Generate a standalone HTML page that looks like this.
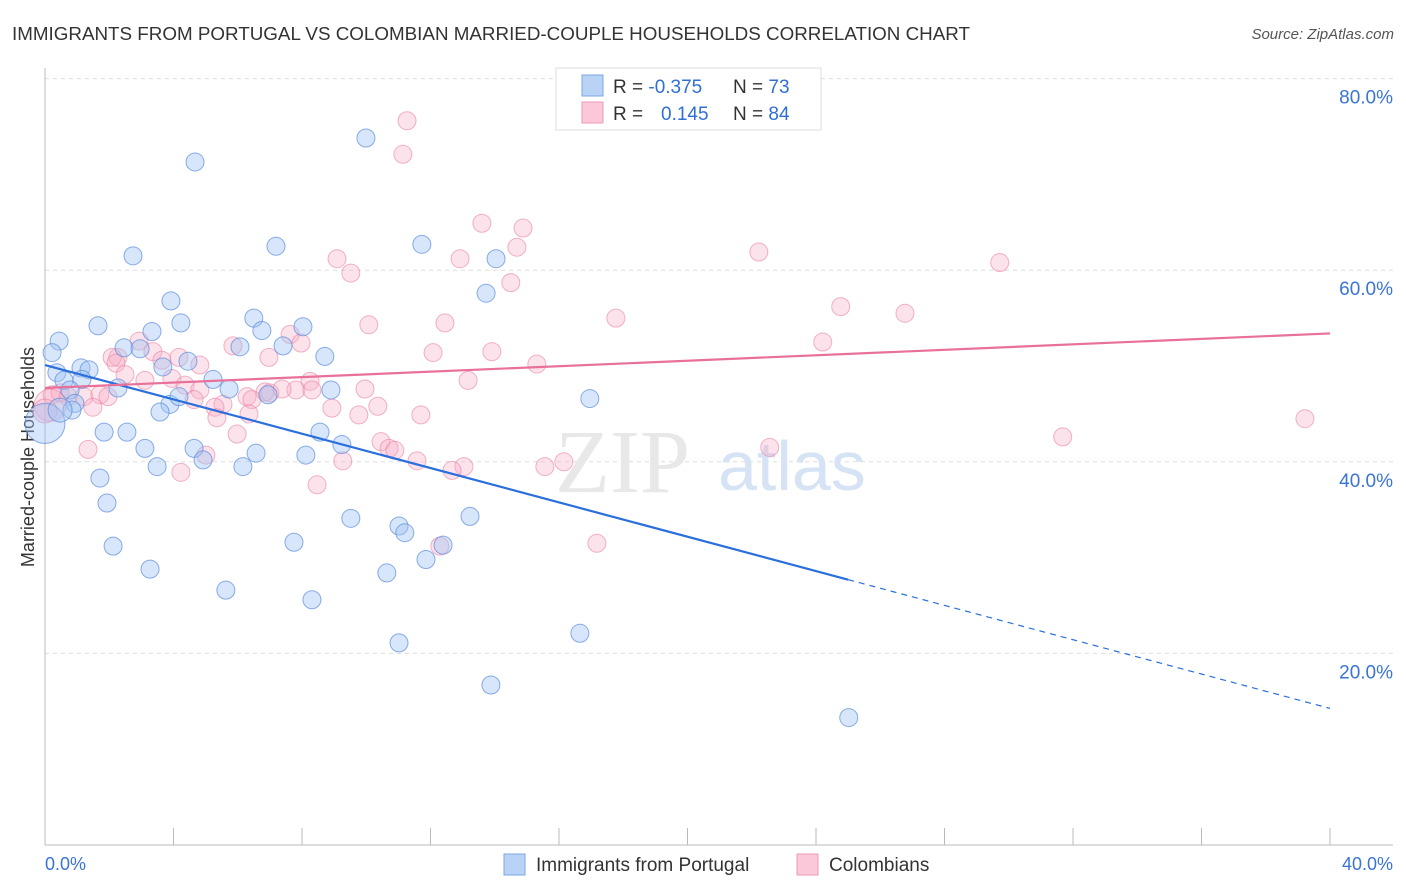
<!DOCTYPE html>
<html><head><meta charset="utf-8">
<style>
body{margin:0;background:#fff;font-family:"Liberation Sans",sans-serif;}
svg{display:block}
</style></head>
<body>
<svg id="chart" width="1406" height="892" viewBox="0 0 1406 892">
<text x="12" y="40" font-size="18" fill="#333" textLength="958" lengthAdjust="spacingAndGlyphs">IMMIGRANTS FROM PORTUGAL VS COLOMBIAN MARRIED-COUPLE HOUSEHOLDS CORRELATION CHART</text>
<text x="1394" y="39" font-size="15" fill="#555" font-style="italic" text-anchor="end">Source: ZipAtlas.com</text>
<text x="34" y="457" font-size="18" fill="#333" text-anchor="middle" transform="rotate(-90 34 457)">Married-couple Households</text>
<g id="grid"></g>
<text x="555" y="492" font-size="90" fill="#e8e8e8" font-family="Liberation Serif,serif">ZIP</text>
<text x="718" y="490" font-size="70" fill="#d6e3f5">atlas</text>
<g id="axes"></g>
<g id="pts"></g>
<g id="trend"></g>
<g>
<rect x="556" y="68" width="265" height="62" fill="#fff" stroke="#ddd"/>
<rect x="582" y="75" width="21" height="21" fill="#b9d3f6" stroke="#7aa7e6"/>
<rect x="582" y="102" width="21" height="21" fill="#fac8d8" stroke="#ee9ab6"/>
<text x="613" y="93" font-size="19" fill="#333">R = <tspan fill="#2f6fd6">-0.375</tspan><tspan x="733">N = </tspan><tspan fill="#2f6fd6">73</tspan></text>
<text x="613" y="120" font-size="19" fill="#333">R = <tspan x="661" fill="#2f6fd6">0.145</tspan><tspan x="733">N = </tspan><tspan fill="#2f6fd6">84</tspan></text>
</g>
<g>
<rect x="504" y="854" width="21" height="21" fill="#b9d3f6" stroke="#7aa7e6"/>
<text x="536" y="871" font-size="19" fill="#333">Immigrants from Portugal</text>
<rect x="797" y="854" width="21" height="21" fill="#fac8d8" stroke="#ee9ab6"/>
<text x="829" y="871" font-size="19" fill="#333">Colombians</text>
</g>
</svg>
<script>
const blueX=[4.67,9.99,2.74,7.19,11.73,14.04,13.73,3.92,1.65,4.23,6.50,6.75,8.03,3.33,0.44,2.46,2.96,6.07,7.41,0.22,8.71,4.45,3.67,1.12,1.37,0.37,0.59,1.15,5.23,2.27,5.73,8.90,6.94,0.78,0.93,3.89,4.17,3.58,0.84,16.96,1.84,2.55,4.64,3.11,8.56,9.24,6.57,4.92,8.12,3.49,6.16,1.71,1.93,9.52,13.23,11.02,11.20,12.39,11.86,2.12,7.75,3.27,10.64,5.63,8.31,11.02,16.65,13.88,25.02,0,0.47];
const blueY=[71.3,73.8,61.5,62.5,62.7,61.2,57.6,56.8,54.2,54.5,55.0,53.7,54.1,53.6,52.6,51.9,51.8,52.0,52.1,51.4,51.0,50.5,49.9,49.8,49.6,49.3,48.5,48.6,48.6,47.7,47.6,47.5,47.0,47.5,46.1,46.0,46.8,45.2,45.4,46.6,43.1,43.1,41.4,41.4,43.1,41.8,40.9,40.2,40.7,39.5,39.5,38.3,35.7,34.1,34.3,33.3,32.6,31.3,29.8,31.2,31.6,28.8,28.4,26.6,25.6,21.1,22.1,16.7,13.3,44.0,45.4];
const blueR=[9,9,9,9,9,9,9,9,9,9,9,9,9,9,9,9,9,9,9,9,9,9,9,9,9,9,9,9,9,9,9,9,9,9,9,9,9,9,9,9,9,9,9,9,9,9,9,9,9,9,9,9,9,9,9,9,9,9,9,9,9,9,9,9,9,9,9,9,9,20,12];
const pinkX=[11.27,11.14,13.60,14.88,14.69,22.22,9.09,12.92,9.52,14.50,29.72,24.77,26.77,17.77,10.08,12.45,7.63,24.21,2.93,7.97,5.85,3.36,2.27,13.91,12.08,2.09,3.64,6.97,4.17,15.31,2.21,4.82,2.49,3.11,13.17,3.95,8.25,4.36,4.82,7.81,9.96,6.85,6.29,8.31,6.44,7.00,7.38,4.64,5.54,0.22,0.47,0.72,1.21,1.71,1.96,1.49,5.29,8.93,10.36,9.77,11.70,6.35,5.98,5.35,10.46,10.71,10.89,5.01,9.27,11.58,31.68,22.56,39.22,13.04,12.67,15.56,16.15,4.23,8.47,12.29,17.18,1.34,0.16,0];
const pinkY=[75.6,72.1,64.9,64.4,62.4,61.9,61.2,61.2,59.7,58.7,60.8,56.2,55.5,55.0,54.3,54.5,53.3,52.5,52.6,52.4,52.1,51.5,50.9,51.5,51.4,50.9,50.6,50.9,50.9,50.2,50.3,50.1,49.1,48.5,48.5,48.7,48.4,48.0,47.5,47.5,47.6,47.3,46.8,47.5,46.5,47.2,47.6,46.5,46.0,47.0,47.2,46.8,46.8,47.0,46.8,45.7,45.7,45.6,45.8,44.9,44.9,45.0,42.9,44.6,42.1,41.4,41.2,40.7,40.1,40.1,42.6,41.5,44.5,39.5,39.1,39.5,40.0,38.9,37.6,31.2,31.5,41.3,45.9,45.3];
const pinkR=[9,9,9,9,9,9,9,9,9,9,9,9,9,9,9,9,9,9,9,9,9,9,9,9,9,9,9,9,9,9,9,9,9,9,9,9,9,9,9,9,9,9,9,9,9,9,9,9,9,9,9,9,9,9,9,9,9,9,9,9,9,9,9,9,9,9,9,9,9,9,9,9,9,9,9,9,9,9,9,9,9,9,16,12];
const yTicks=[20,40,60,80];
const yTickLabels=["20.0%","40.0%","60.0%","80.0%"];
const xTickVals=[0,4,8,12,16,20,24,28,32,36,40];
const blueTrend=[50.1,27.7,25,40];
const pinkTrend=[47.7,53.4];
const NS="http://www.w3.org/2000/svg";
const X=v=>45+v*(1285/40);
const Y=v=>845-v*9.58;
function mk(parent,tag,attrs){const e=document.createElementNS(NS,tag);for(const k in attrs)e.setAttribute(k,attrs[k]);parent.appendChild(e);return e;}
const grid=document.getElementById('grid'),axes=document.getElementById('axes'),pts=document.getElementById('pts'),trend=document.getElementById('trend');
yTicks.forEach((t,i)=>{
  const l=mk(grid,'line',{x1:45,x2:1393,y1:Y(t),y2:Y(t),stroke:'#ddd','stroke-dasharray':'4 4'});
  
  
  const tx=mk(axes,'text',{x:1393,y:Y(t)+25,'font-size':19,fill:'#3a74d8','text-anchor':'end'});
  tx.textContent=yTickLabels[i];
  
  
});
const axl=mk(axes,'line',{x1:45,x2:45,y1:68,y2:845,stroke:'#bbb'});


const bxl=mk(axes,'line',{x1:45,x2:1393,y1:845,y2:845,stroke:'#bbb'});


xTickVals.forEach(v=>{
  const t=mk(axes,'line',{x1:X(v),x2:X(v),y1:828,y2:845,stroke:'#bbb'});
  
  
});
const xl0=mk(axes,'text',{x:45,y:870,'font-size':18,fill:'#3a74d8'});xl0.textContent='0.0%';


const xl1=mk(axes,'text',{x:1393,y:870,'font-size':18,fill:'#3a74d8','text-anchor':'end'});xl1.textContent='40.0%';


pinkX.forEach((x,i)=>{
  const c=mk(pts,'circle',{cx:X(x),cy:Y(pinkY[i]),r:pinkR[i],fill:'rgba(246,172,198,0.35)',stroke:'rgba(234,130,165,0.6)','stroke-width':1});
  
  
});
blueX.forEach((x,i)=>{
  const c=mk(pts,'circle',{cx:X(x),cy:Y(blueY[i]),r:blueR[i],fill:'rgba(160,196,242,0.42)',stroke:'rgba(90,140,220,0.7)','stroke-width':1});
  
  
});
const slope=(blueTrend[1]-blueTrend[0])/25;
const bl=mk(trend,'line',{x1:X(0),y1:Y(blueTrend[0]),x2:X(blueTrend[2]),y2:Y(blueTrend[0]+slope*blueTrend[2]),stroke:'#2a6fdb','stroke-width':2.2});


const bd=mk(trend,'line',{x1:X(blueTrend[2]),y1:Y(blueTrend[0]+slope*blueTrend[2]),x2:X(blueTrend[3]),y2:Y(blueTrend[0]+slope*blueTrend[3]),stroke:'#2a6fdb','stroke-width':1.2,'stroke-dasharray':'6 5'});


const pl=mk(trend,'line',{x1:X(0),y1:Y(pinkTrend[0]),x2:X(40),y2:Y(pinkTrend[1]),stroke:'#e8709a','stroke-width':2.2});


</script>
</body></html>
